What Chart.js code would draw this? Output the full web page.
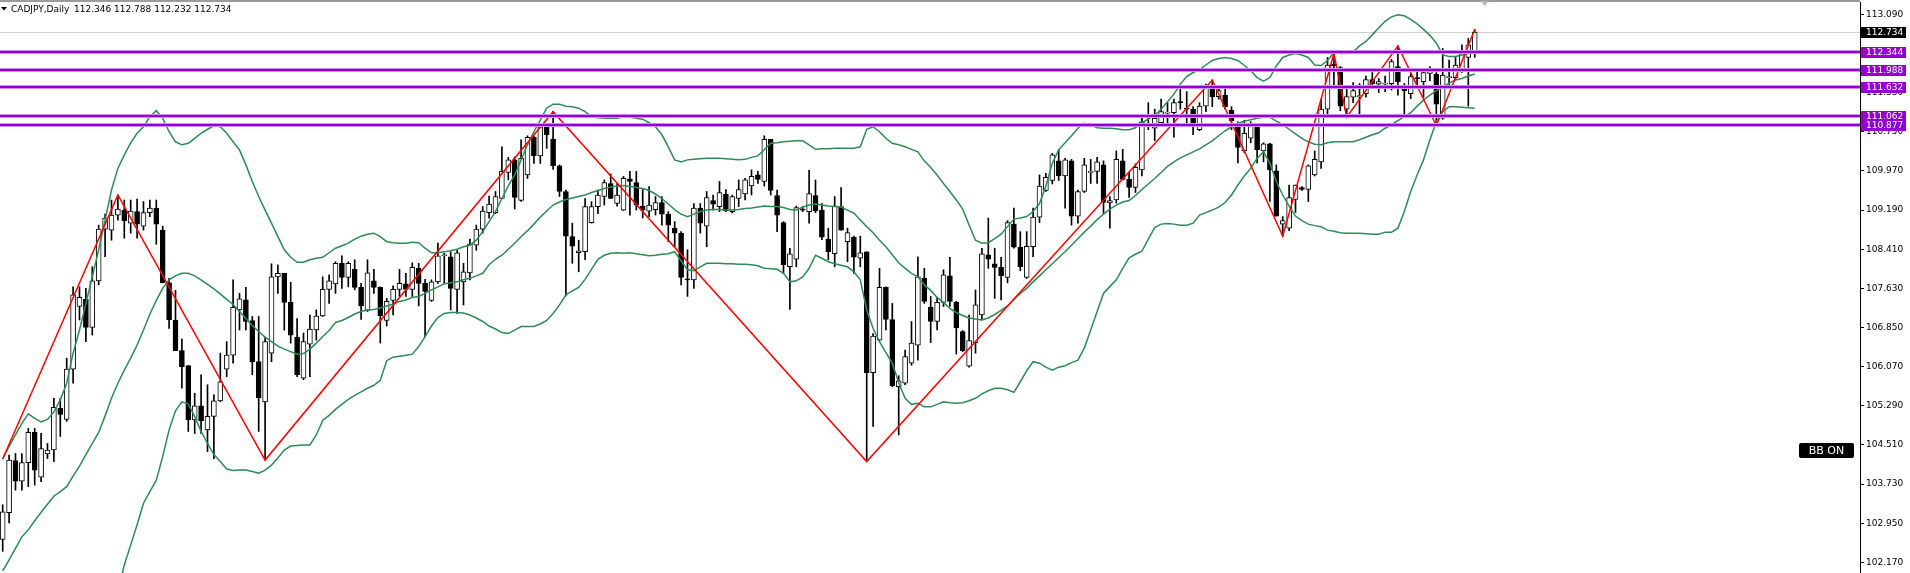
<!DOCTYPE html>
<html>
<head>
<meta charset="utf-8">
<title>CADJPY Daily</title>
<script src="https://cdn.jsdelivr.net/npm/chart.js@4.4.1/dist/chart.umd.min.js"></script>
<style>
  html, body { margin: 0; padding: 0; background: #fff; }
  #wrap { width: 1910px; height: 573px; position: relative; }
</style>
</head>
<body>
<div id="wrap"><canvas id="chart" width="1910" height="573"></canvas></div>
<script>
const symbol = 'CADJPY,Daily';
const ohlcHeader = ['112.346', '112.788', '112.232', '112.734'];

// daily candles (oldest first)
const openP = [
  102.63,103.16,104.20,103.79,104.16,104.76,103.87,104.33,104.41,105.24,
  105.02,106.02,107.27,107.41,106.85,107.78,108.81,108.79,109.09,109.19,
  108.93,109.16,108.87,109.14,109.23,108.79,107.74,107.00,106.39,106.09,
  105.01,105.29,104.81,105.08,105.39,106.02,106.30,107.20,107.40,106.99,
  106.17,105.37,106.34,107.86,107.93,107.35,106.66,105.84,106.52,106.80,
  107.08,107.61,107.72,108.13,107.85,108.01,107.65,107.19,107.78,107.65,
  106.99,107.39,107.61,107.72,107.61,108.03,107.73,107.39,107.76,108.28,
  108.26,107.61,107.76,107.94,108.49,108.81,109.14,109.14,109.42,109.94,
  110.19,109.38,109.89,110.64,110.27,110.85,110.60,110.07,109.56,108.66,
  108.34,108.36,108.94,109.26,109.46,109.72,109.32,109.19,109.81,109.74,
  109.27,109.17,109.20,109.34,109.11,108.83,108.73,107.81,107.80,109.23,
  108.87,109.38,109.26,109.51,109.16,109.42,109.51,109.67,109.89,109.76,
  110.60,109.48,108.94,108.06,108.21,109.21,109.16,109.48,109.19,108.61,
  108.32,109.26,108.56,108.65,108.23,108.36,105.95,106.60,107.65,107.01,
  105.67,105.74,106.14,106.50,107.83,107.25,106.97,107.35,107.88,107.35,
  106.77,106.08,106.55,107.10,108.30,108.12,108.05,107.85,108.91,108.45,
  107.85,108.46,109.05,109.58,109.78,110.17,109.87,110.17,109.07,109.56,
  109.94,109.96,110.09,109.33,109.39,110.17,109.80,109.64,109.99,110.92,
  110.82,110.93,111.12,111.13,111.35,111.22,111.20,110.79,111.26,111.65,
  111.45,111.48,111.18,110.91,110.37,110.62,110.87,110.37,110.51,109.97,
  108.91,108.83,109.40,109.64,109.60,109.89,110.15,111.20,112.10,112.03,
  111.20,111.44,111.45,111.51,111.79,111.70,111.70,111.71,112.05,111.66,
  111.51,111.83,111.75,111.91,111.90,111.02,111.83,111.83,111.98,112.23,
  112.346
];
const highP = [
  103.32,104.31,104.34,104.34,104.84,104.84,104.74,104.54,105.44,105.44,
  106.24,107.66,107.66,107.63,108.06,108.89,109.11,109.39,109.49,109.39,
  109.39,109.41,109.36,109.39,109.39,108.87,107.83,107.59,106.62,106.09,
  105.54,105.91,105.71,105.51,106.34,106.57,107.80,107.53,107.65,107.07,
  107.07,106.66,108.12,108.10,107.93,107.75,107.03,106.74,107.10,107.20,
  107.86,107.90,108.16,108.28,108.16,108.20,107.73,108.20,108.01,107.66,
  107.43,107.68,108.01,107.93,108.14,108.13,107.81,107.80,108.53,108.33,
  108.36,108.39,108.13,108.61,108.89,109.26,109.47,109.56,110.45,110.24,
  110.25,110.59,110.67,110.67,110.92,110.88,111.15,110.09,109.59,108.93,
  108.59,109.42,109.36,109.59,109.79,109.91,109.72,109.86,109.96,109.96,
  109.62,109.66,109.46,109.46,109.16,108.96,108.76,108.40,109.32,109.32,
  109.56,109.49,109.76,109.60,109.49,109.79,109.82,109.99,109.96,110.67,
  110.60,109.59,108.96,108.43,109.27,109.26,109.98,109.79,109.32,108.83,
  109.46,109.64,108.83,108.67,108.67,108.36,106.73,108.03,107.66,107.33,
  105.89,106.40,106.97,108.26,108.03,107.47,107.45,108.00,108.25,107.37,
  106.79,107.10,107.60,108.43,109.03,108.43,108.25,108.98,109.23,108.76,
  108.76,109.23,109.89,109.92,110.32,110.40,110.22,110.20,109.59,110.22,
  110.20,110.24,110.17,109.46,110.37,110.40,109.94,110.11,111.02,111.33,
  111.20,111.40,111.33,111.40,111.64,111.55,111.25,111.33,111.70,111.78,
  111.64,111.60,111.25,110.95,110.98,110.95,110.87,110.53,110.52,110.09,
  109.06,109.69,109.69,109.66,110.09,110.37,111.40,112.23,112.31,112.05,
  111.61,111.73,111.71,111.86,111.93,111.81,111.86,112.19,112.46,111.71,
  111.90,111.95,112.01,112.05,111.93,112.41,112.18,112.23,112.48,112.61,
  112.788
];
const lowP = [
  102.39,102.96,103.61,103.61,103.68,103.71,103.78,104.24,104.18,104.68,
  104.98,105.74,107.00,106.57,106.70,107.70,108.26,108.59,108.99,108.63,
  108.73,108.63,108.79,109.06,108.51,107.74,106.83,106.39,105.64,104.78,
  104.74,104.74,104.38,104.24,105.37,105.87,106.14,106.80,106.80,105.91,
  104.78,104.21,106.17,107.53,106.80,106.54,105.87,105.81,105.87,106.60,
  107.07,107.33,107.53,107.63,107.66,107.60,107.01,107.17,107.53,106.54,
  106.88,107.10,107.47,107.47,107.47,107.28,106.67,107.37,107.73,107.73,
  107.20,107.13,107.30,107.80,108.39,108.73,109.03,109.12,109.42,109.79,
  109.21,109.36,109.82,110.12,110.12,110.42,110.00,109.46,107.48,108.13,
  107.96,108.20,108.93,109.12,109.29,109.42,109.27,109.18,109.09,109.19,
  109.03,109.06,109.09,108.89,108.56,108.46,107.70,107.47,107.63,108.73,
  108.46,109.19,109.16,109.16,109.13,109.26,109.39,109.49,109.72,109.67,
  109.49,108.76,107.93,107.21,108.06,109.16,108.93,109.14,108.60,108.20,
  108.06,108.79,108.16,107.93,108.06,104.18,104.88,106.59,106.80,105.67,
  104.71,105.71,106.10,106.20,107.33,106.55,106.80,107.27,107.27,106.32,
  106.37,106.06,106.34,107.00,108.03,107.43,107.40,107.74,108.43,107.98,
  107.83,108.26,108.94,109.56,109.71,109.78,109.23,108.89,108.93,109.54,
  109.72,109.72,109.11,108.83,109.33,109.79,109.44,109.54,109.87,110.79,
  110.57,110.85,110.92,110.64,111.20,110.85,110.69,110.77,111.15,111.25,
  111.40,111.20,110.79,110.13,110.33,110.53,110.13,110.15,109.36,109.07,
  108.67,108.78,109.14,109.58,109.36,109.87,110.02,111.08,111.61,111.17,
  111.04,111.33,111.06,111.44,111.61,111.53,111.55,111.58,111.48,111.08,
  111.41,111.68,111.44,111.77,110.87,111.00,111.68,111.79,111.93,111.26,
  112.232
];
const closeP = [
  103.18,104.21,103.79,104.16,104.76,104.01,104.44,104.41,105.26,105.12,
  106.02,107.50,107.45,106.85,107.78,108.81,109.03,109.09,109.21,108.98,
  109.17,108.91,109.14,109.23,108.91,107.74,107.00,106.39,106.07,105.01,
  105.29,104.99,105.08,105.39,105.77,106.30,107.25,107.42,106.97,106.17,
  105.45,106.57,107.86,107.93,107.35,106.70,105.91,106.57,106.82,107.08,
  107.61,107.78,108.13,107.85,108.13,107.65,107.28,107.94,107.65,107.08,
  107.37,107.61,107.73,107.61,108.05,107.73,107.57,107.76,108.28,108.30,
  107.63,108.34,107.96,108.51,108.81,109.17,109.31,109.46,109.96,110.19,
  109.44,110.22,110.64,110.27,110.85,110.69,110.07,109.56,108.67,108.47,
  108.38,109.26,109.26,109.49,109.74,109.42,109.49,109.82,109.76,109.29,
  109.19,109.29,109.34,109.11,108.89,108.73,107.85,107.80,109.23,108.93,
  109.44,109.31,109.54,109.18,109.46,109.60,109.79,109.86,109.80,110.60,
  109.58,109.09,108.10,108.32,109.24,109.19,109.52,109.18,108.65,108.36,
  109.27,108.79,108.74,108.25,108.34,105.95,106.68,107.65,107.01,105.69,
  105.79,106.27,106.54,107.86,107.37,106.97,107.35,107.90,107.37,106.84,
  106.39,106.59,107.30,108.32,108.21,108.05,107.88,108.94,108.45,108.06,
  108.47,109.05,109.67,109.84,110.29,109.87,110.19,109.07,109.56,110.09,
  109.96,110.15,109.34,109.38,110.20,109.80,109.64,110.04,110.95,110.89,
  111.02,111.15,111.13,111.33,111.33,111.20,110.92,111.26,111.65,111.45,
  111.57,111.25,110.97,110.44,110.72,110.88,110.39,110.51,109.99,109.07,
  108.98,109.44,109.69,109.60,110.07,110.20,111.20,112.08,112.06,111.26,
  111.45,111.57,111.46,111.79,111.71,111.75,111.71,112.15,111.75,111.57,
  111.85,111.81,111.93,111.97,111.30,111.88,111.85,112.08,112.33,112.48,
  112.734
];

// Bollinger bands per candle
const bbUpper = [
  104.24,104.48,104.71,104.94,105.13,105.04,104.97,105.02,105.17,105.41,
  105.74,106.34,106.80,107.33,107.86,108.40,108.99,109.59,110.02,110.29,
  110.53,110.72,110.85,111.05,111.17,111.02,110.75,110.55,110.49,110.52,
  110.62,110.72,110.80,110.87,110.85,110.72,110.55,110.39,110.09,109.76,
  109.46,109.19,108.93,108.66,108.40,108.25,108.15,108.15,108.20,108.23,
  108.25,108.34,108.43,108.48,108.53,108.61,108.67,108.71,108.73,108.66,
  108.56,108.54,108.53,108.53,108.55,108.54,108.43,108.34,108.34,108.36,
  108.38,108.41,108.46,108.49,108.59,108.76,108.96,109.16,109.42,109.67,
  109.89,110.19,110.49,110.75,110.98,111.22,111.30,111.30,111.26,111.25,
  111.22,111.15,111.05,111.03,111.02,111.02,111.02,111.05,111.04,111.02,
  111.00,110.93,110.85,110.69,110.45,110.19,110.15,110.19,110.20,110.21,
  110.22,110.22,110.22,110.21,110.20,110.19,110.20,110.24,110.27,110.39,
  110.52,110.53,110.55,110.56,110.57,110.57,110.49,110.40,110.41,110.41,
  110.42,110.42,110.42,110.42,110.45,110.80,110.85,110.75,110.62,110.52,
  110.49,110.45,110.40,110.35,110.17,110.04,109.89,109.72,109.56,109.39,
  109.21,108.89,108.59,108.53,108.54,108.62,108.71,108.86,109.01,109.03,
  109.06,109.16,109.32,109.67,110.12,110.39,110.53,110.67,110.82,110.92,
  110.89,110.83,110.82,110.82,110.81,110.79,110.79,110.83,110.93,111.00,
  111.08,111.20,111.35,111.50,111.70,111.85,111.93,111.99,112.08,112.17,
  112.21,112.23,112.21,112.17,112.07,111.97,111.83,111.76,111.83,112.06,
  112.23,112.28,112.31,112.28,112.23,112.08,112.07,112.17,112.33,112.31,
  112.31,112.34,112.46,112.55,112.68,112.82,112.95,113.04,113.08,113.06,
  112.99,112.90,112.79,112.67,112.52,112.28,112.25,112.25,112.28,112.31,
  112.35
];
const bbMiddle = [
  102.00,102.22,102.45,102.68,102.82,103.00,103.17,103.33,103.49,103.58,
  103.68,103.89,104.09,104.32,104.54,104.76,105.09,105.44,105.74,106.00,
  106.24,106.50,106.80,107.12,107.39,107.63,107.80,107.88,107.93,107.93,
  107.88,107.80,107.71,107.62,107.52,107.41,107.31,107.17,107.03,106.89,
  106.77,106.66,106.57,106.48,106.42,106.37,106.32,106.33,106.42,106.54,
  106.67,106.79,106.95,106.99,107.05,107.12,107.17,107.20,107.21,107.24,
  107.28,107.32,107.37,107.40,107.45,107.47,107.53,107.60,107.66,107.72,
  107.74,107.76,107.80,107.83,107.88,107.93,108.10,108.21,108.29,108.41,
  108.53,108.66,108.78,108.91,109.05,109.17,109.29,109.35,109.40,109.43,
  109.46,109.49,109.54,109.58,109.62,109.65,109.67,109.68,109.66,109.64,
  109.62,109.58,109.51,109.42,109.31,109.20,109.11,109.06,109.11,109.16,
  109.19,109.20,109.20,109.19,109.19,109.20,109.22,109.23,109.25,109.27,
  109.26,109.26,109.24,109.20,109.19,109.25,109.29,109.31,109.29,109.27,
  109.26,109.25,109.19,109.13,108.99,108.86,108.74,108.59,108.46,108.30,
  108.14,108.03,107.93,107.86,107.70,107.59,107.45,107.35,107.23,107.15,
  107.09,107.04,107.02,107.00,107.04,107.11,107.19,107.28,107.41,107.53,
  107.63,107.76,107.88,108.00,108.12,108.24,108.36,108.49,108.62,108.75,
  108.87,109.00,109.11,109.21,109.29,109.35,109.38,109.48,109.60,109.71,
  109.82,109.94,110.06,110.15,110.23,110.29,110.35,110.41,110.49,110.57,
  110.67,110.77,110.85,110.92,110.96,110.99,111.02,111.04,111.04,110.96,
  110.89,110.80,110.71,110.62,110.55,110.50,110.49,110.53,110.55,110.55,
  110.55,110.55,110.59,110.64,110.69,110.73,110.82,110.89,110.97,111.05,
  111.13,111.26,111.38,111.48,111.57,111.64,111.72,111.78,111.81,111.86,
  111.90
];
const bbLower = [
  99.80,100.00,100.20,100.40,100.50,100.90,101.20,101.40,101.50,101.50,
  101.40,101.30,101.20,101.10,101.00,100.90,100.90,101.10,101.60,102.12,
  102.52,102.92,103.35,103.58,103.81,104.28,104.81,105.19,105.37,105.33,
  105.08,104.78,104.54,104.32,104.18,104.03,104.00,104.01,104.01,103.98,
  103.95,104.01,104.11,104.25,104.41,104.49,104.50,104.51,104.51,104.71,
  105.00,105.10,105.22,105.32,105.42,105.50,105.57,105.64,105.70,105.80,
  106.19,106.26,106.28,106.30,106.32,106.47,106.67,106.88,107.05,107.13,
  107.15,107.15,107.14,107.10,107.04,106.97,106.88,106.82,106.75,106.73,
  106.80,106.87,106.87,106.87,106.92,106.99,107.13,107.30,107.50,107.58,
  107.65,107.81,108.01,108.21,108.29,108.33,108.34,108.33,108.34,108.32,
  108.30,108.28,108.29,108.31,108.32,108.36,108.18,108.00,107.98,108.06,
  108.13,108.13,108.13,108.12,108.12,108.11,108.11,108.10,108.08,108.03,
  108.02,108.01,107.93,107.76,107.78,107.86,108.03,108.29,108.23,108.16,
  108.12,108.09,108.06,107.96,107.80,107.20,106.83,106.57,106.35,106.14,
  105.75,105.44,105.32,105.34,105.27,105.27,105.32,105.37,105.35,105.34,
  105.35,105.39,105.44,105.53,105.59,105.64,105.64,105.61,105.56,105.77,
  105.99,106.17,106.14,106.06,106.00,106.06,106.09,106.15,106.20,106.44,
  106.80,107.17,107.53,107.67,107.80,108.03,108.24,108.31,108.37,108.61,
  108.84,108.91,108.92,108.91,108.89,108.89,108.93,109.09,109.14,109.19,
  109.25,109.34,109.49,109.69,109.87,110.02,110.22,110.35,110.12,109.76,
  109.49,109.27,109.07,108.98,108.91,108.88,108.86,108.79,108.77,108.74,
  108.73,108.73,108.73,108.72,108.71,108.71,108.75,108.75,108.83,109.16,
  109.56,109.89,110.19,110.59,110.95,111.15,111.25,111.25,111.24,111.23,
  111.22
];

// zigzag pivots (candle index, price)
const zigzagIdx = [0, 18, 41, 86, 135, 189, 200, 208, 210, 218, 224, 230];
const zigzagVal = [104.23, 109.49, 104.21, 111.15, 104.18, 111.78, 108.67, 112.31, 111.04, 112.46, 110.87, 112.788];

// horizontal levels and price scale
const levels = [112.344, 111.988, 111.632, 111.062, 110.877];
const lastPrice = 112.734;
const yTicks = [102.17, 102.95, 103.73, 104.51, 105.29, 106.07, 106.85, 107.63,
                108.41, 109.19, 109.97, 110.75, 111.53, 112.31, 113.09];

const FONT = '"DejaVu Sans", sans-serif';
const idx = closeP.map((_, i) => i);

const overlay = {
  id: 'overlay',
  beforeDatasetsDraw(chart) {
    const { ctx, chartArea: a, scales: { y } } = chart;
    const py = Math.round(y.getPixelForValue(lastPrice)) + 0.5;
    ctx.save();
    ctx.strokeStyle = '#cfcfcf';
    ctx.lineWidth = 1;
    ctx.beginPath();
    ctx.moveTo(a.left, py);
    ctx.lineTo(a.right, py);
    ctx.stroke();
    ctx.restore();
  },
  afterDraw(chart) {
    const { ctx, chartArea: a, scales: { x, y } } = chart;
    ctx.save();

    // frame top
    ctx.fillStyle = '#9c9c9c';
    ctx.fillRect(0, 0, a.right, 2);

    // horizontal levels (soft edge + solid core)
    levels.forEach(v => {
      const py = Math.round(y.getPixelForValue(v));
      ctx.fillStyle = '#cf8ef0';
      ctx.fillRect(a.left, py - 2, a.right - a.left, 4);
      ctx.fillStyle = '#9400d3';
      ctx.fillRect(a.left, py - 1, a.right - a.left, 2);
    });

    // price labels on the scale
    ctx.font = '9px ' + FONT;
    ctx.textBaseline = 'middle';
    ctx.textAlign = 'left';
    const tag = (v, txt, bg) => {
      const py = Math.round(y.getPixelForValue(v));
      ctx.fillStyle = bg;
      ctx.fillRect(a.right + 1, py - 5, 45, 11);
      ctx.fillStyle = '#fff';
      ctx.fillText(txt, a.right + 6, py + 0.5);
    };
    levels.forEach(v => tag(v, v.toFixed(3), '#9400d3'));
    tag(lastPrice, lastPrice.toFixed(3), '#000');

    // chart shift marker
    const sx = x.getPixelForValue(closeP.length - 1) + 10;
    ctx.fillStyle = '#b4b4b4';
    ctx.beginPath();
    ctx.moveTo(sx - 4, 1);
    ctx.lineTo(sx + 4, 1);
    ctx.lineTo(sx, 6);
    ctx.closePath();
    ctx.fill();

    // header
    ctx.fillStyle = '#000';
    ctx.beginPath();
    ctx.moveTo(1, 7);
    ctx.lineTo(7, 7);
    ctx.lineTo(4, 10.5);
    ctx.closePath();
    ctx.fill();
    ctx.fillText(symbol, 11, 9.5);
    ctx.fillText(ohlcHeader.join(' '), 74, 9.5);

    // BB ON badge
    ctx.fillStyle = '#000';
    ctx.beginPath();
    ctx.roundRect(1799, 443, 55, 15, 2);
    ctx.fill();
    ctx.fillStyle = '#fff';
    ctx.font = '11px ' + FONT;
    ctx.textAlign = 'center';
    ctx.fillText('BB ON', 1826.5, 451);

    ctx.restore();
  }
};

const bandLine = (vals) => ({
  type: 'line',
  data: idx.map(i => ({ x: i, y: vals[i] })),
  borderColor: '#2e8b57',
  borderWidth: 1.5,
  pointRadius: 0,
  tension: 0,
  order: 2
});

new Chart(document.getElementById('chart'), {
  type: 'bar',
  data: {
    datasets: [
      {
        type: 'line',
        label: 'ZigZag',
        data: zigzagIdx.map((k, j) => ({ x: k, y: zigzagVal[j] })),
        borderColor: '#ff0000',
        borderWidth: 1.5,
        pointRadius: 0,
        tension: 0,
        order: 1
      },
      bandLine(bbUpper),
      bandLine(bbMiddle),
      bandLine(bbLower),
      {
        label: 'wick',
        data: idx.map(i => ({ x: i, y: [lowP[i], highP[i]] })),
        backgroundColor: '#000',
        barThickness: 1,
        grouped: false,
        order: 4
      },
      {
        label: 'body',
        data: idx.map(i => ({ x: i, y: [openP[i], closeP[i]] })),
        backgroundColor: idx.map(i => closeP[i] >= openP[i] ? '#ffffff' : '#000000'),
        borderColor: '#000',
        borderWidth: 1,
        borderSkipped: false,
        barThickness: 5,
        minBarLength: 1,
        grouped: false,
        order: 3
      }
    ]
  },
  options: {
    responsive: false,
    animation: false,
    events: [],
    layout: { padding: { top: 2, left: 0, right: 0, bottom: 0 } },
    plugins: { legend: { display: false }, tooltip: { enabled: false } },
    scales: {
      x: { type: 'linear', min: -0.42, max: 290.2, display: false, offset: false },
      y: {
        position: 'right',
        min: 101.96,
        max: 113.335,
        afterBuildTicks: s => { s.ticks = yTicks.map(v => ({ value: v })); },
        afterFit: s => { s.width = 50; s.paddingTop = 0; s.paddingBottom = 0; },
        ticks: {
          autoSkip: false,
          padding: 2,
          color: '#000',
          font: { family: 'DejaVu Sans', size: 9 },
          callback: v => Number(v).toFixed(3)
        },
        grid: { drawOnChartArea: false, drawTicks: true, tickLength: 4, color: '#000' },
        border: { display: true, color: '#000', width: 1 }
      }
    }
  },
  plugins: [overlay]
});
</script>
</body>
</html>
